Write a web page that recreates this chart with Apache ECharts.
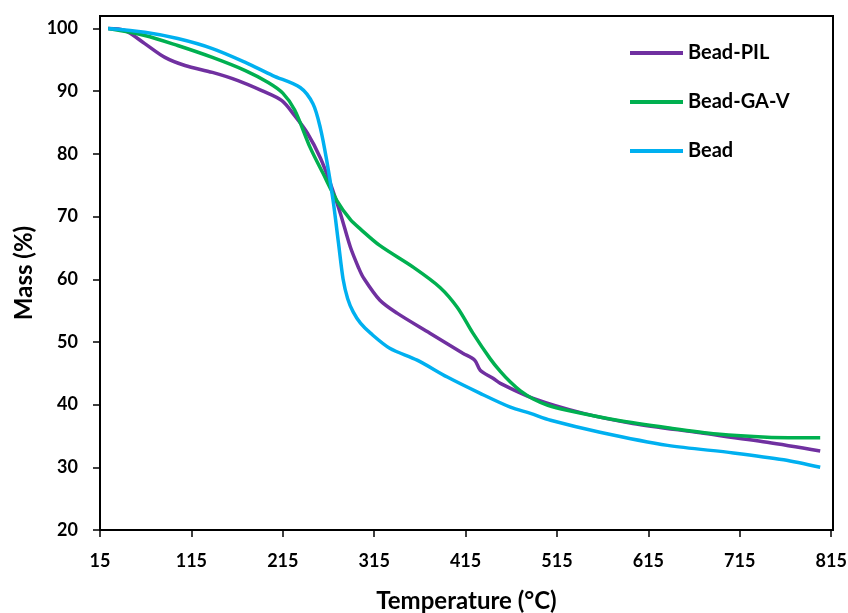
<!DOCTYPE html>
<html>
<head>
<meta charset="utf-8">
<script src="https://cdn.jsdelivr.net/npm/echarts@6/dist/echarts.min.js"></script>
<style>
html,body{margin:0;padding:0;background:#fff;}
#chart{width:848px;height:613px;}
</style>
</head>
<body>
<div id="chart"></div>
<script>
// ---- data ----
var seriesNames = ['Bead-PIL', 'Bead-GA-V', 'Bead'];

var pilTemp = [24, 42, 64, 86, 108, 138, 166, 192, 214, 228, 242, 256, 267, 278, 289, 298, 303, 321, 340, 376, 412, 425, 431, 445, 453, 489, 544, 598, 672, 745, 803];
var pilMass = [100, 99.7, 97.6, 95.4, 94.1, 93.0, 91.7, 90.1, 88.5, 86.1, 83.3, 79.4, 75.3, 70.5, 65.1, 61.8, 60.3, 56.7, 54.6, 51.4, 48.2, 47.1, 45.5, 44.2, 43.4, 41.0, 38.6, 37.0, 35.5, 34.0, 32.6];

var gavTemp = [24, 64, 100, 138, 174, 199, 215, 228, 245, 259, 274, 289, 300, 321, 358, 387, 406, 423, 442, 453, 464, 475, 489, 505, 526, 581, 636, 690, 745, 803];
var gavMass = [100, 98.9, 97.3, 95.4, 93.3, 91.4, 89.7, 87.0, 81.0, 76.9, 72.6, 69.5, 68.0, 65.4, 61.9, 58.7, 55.5, 51.4, 47.3, 45.3, 43.6, 42.2, 40.9, 39.9, 39.1, 37.5, 36.3, 35.3, 34.8, 34.7];

var beadTemp = [24, 64, 100, 138, 174, 204, 234, 248, 256, 263, 270, 276, 281, 286, 292, 300, 311, 332, 362, 395, 431, 464, 486, 508, 562, 636, 708, 763, 803];
var beadMass = [100, 99.4, 98.4, 96.8, 94.6, 92.5, 90.6, 88.0, 84.2, 79.0, 72.6, 65.7, 60.0, 56.9, 54.8, 53.0, 51.4, 49.0, 47.1, 44.4, 41.8, 39.6, 38.6, 37.5, 35.6, 33.5, 32.3, 31.2, 30.0];

var xTicks = [15, 115, 215, 315, 415, 515, 615, 715, 815];
var yTicks = [20, 30, 40, 50, 60, 70, 80, 90, 100];

var colors = ['#7030A0', '#00B050', '#00B0F0'];

function pairs(t, m) { return t.map(function (v, i) { return [v, m[i]]; }); }

var FONT = 'Lato';
var chart = echarts.init(document.getElementById('chart'));

function legendAt(name, top) {
  return {
    data: [name], left: 630, top: top, padding: 0,
    icon: 'rect', itemWidth: 53, itemHeight: 4,
    textStyle: { fontFamily: FONT, fontWeight: 'bold', fontSize: 20, color: '#000', lineHeight: 24 }
  };
}

chart.setOption({
  animation: false,
  backgroundColor: '#fff',
  color: colors,
  grid: { left: 100, right: 15, top: 16, bottom: 83, outerBoundsMode: 'none', containLabel: false, show: true, borderColor: '#000', borderWidth: 2, backgroundColor: 'transparent' },
  legend: [legendAt(seriesNames[0], 41), legendAt(seriesNames[1], 90), legendAt(seriesNames[2], 139)],
  xAxis: {
    type: 'value', min: 15, max: 817,
    name: 'Temperature (°C)', nameLocation: 'middle', nameGap: 59,
    nameTextStyle: { fontFamily: FONT, fontWeight: 'bold', fontSize: 24, color: '#000' },
    axisLine: { show: true, lineStyle: { color: '#000', width: 2 } },
    axisTick: { show: true, length: 7, inside: false, customValues: xTicks, lineStyle: { color: '#000', width: 1.5 } },
    axisLabel: { customValues: xTicks, margin: 22, fontFamily: FONT, fontWeight: 'bold', fontSize: 18, color: '#000' },
    splitLine: { show: false }
  },
  yAxis: {
    type: 'value', min: 20, max: 102,
    name: 'Mass (%)', nameLocation: 'middle', nameGap: 63, nameRotate: 90,
    nameTextStyle: { fontFamily: FONT, fontWeight: 'bold', fontSize: 24, color: '#000' },
    axisLine: { show: true, lineStyle: { color: '#000', width: 2 } },
    axisTick: { show: true, length: 7, inside: false, customValues: yTicks, lineStyle: { color: '#000', width: 1.5 } },
    axisLabel: { customValues: yTicks, margin: 22, fontFamily: FONT, fontWeight: 'bold', fontSize: 18, color: '#000' },
    splitLine: { show: false }
  },
  series: [
    { name: seriesNames[0], type: 'line', data: pairs(pilTemp, pilMass), smooth: 0.3, symbol: 'none', lineStyle: { width: 3.5, color: colors[0] } },
    { name: seriesNames[1], type: 'line', data: pairs(gavTemp, gavMass), smooth: 0.3, symbol: 'none', lineStyle: { width: 3.5, color: colors[1] } },
    { name: seriesNames[2], type: 'line', data: pairs(beadTemp, beadMass), smooth: 0.3, symbol: 'none', lineStyle: { width: 3.5, color: colors[2] } }
  ]
});
</script>
</body>
</html>
